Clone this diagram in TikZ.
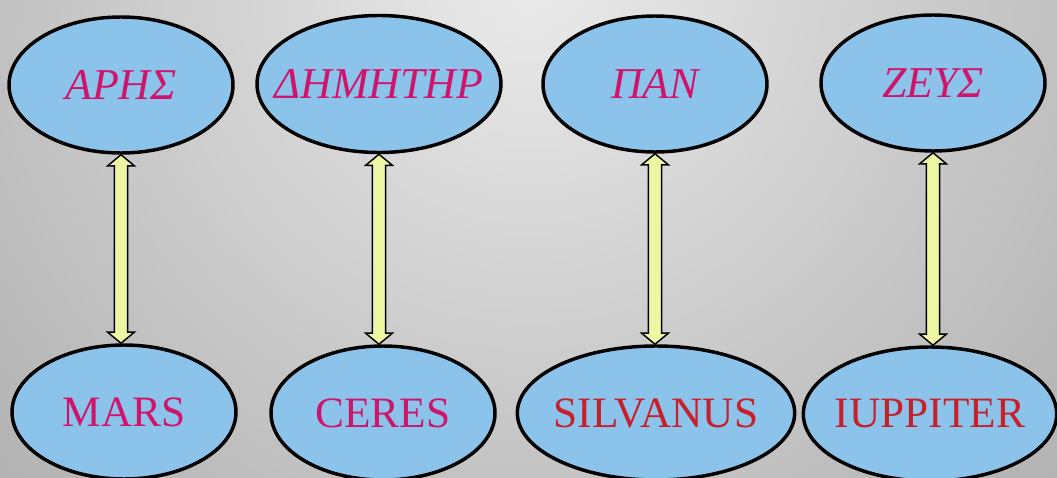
\documentclass[tikz,border=0pt]{standalone}
\usepackage{fontspec}
\setmainfont{Liberation Serif}
\usetikzlibrary{shapes.geometric,calc}
\definecolor{ellfill}{HTML}{8CC3EA}
\definecolor{arrfill}{HTML}{EEF5A3}
\definecolor{magtext}{HTML}{D0146C}
\definecolor{redtext}{HTML}{C8202A}
\definecolor{bgA}{HTML}{EBEBEB}
\definecolor{bgB}{HTML}{D0D0D0}
\definecolor{bgC}{HTML}{B6B6B6}
\definecolor{bgD}{HTML}{9E9E9E}
\pgfdeclareradialshading{bgshade}{\pgfpoint{0bp}{0bp}}{%
  color(0bp)=(bgA); color(7bp)=(bgB);
  color(14bp)=(bgC); color(22bp)=(bgD);
  color(50bp)=(bgD)}
\tikzset{
  godell/.style={ellipse, draw=black, line width=2.6pt, fill=ellfill, inner sep=0pt},
  greektext/.style={font=\fontsize{33}{36}\selectfont\itshape, text=magtext, inner sep=0pt},
  latintext/.style={font=\fontsize{32.5}{36}\selectfont, text=#1, inner sep=0pt},
  arrowbox/.style={draw=black, line width=1.1pt, fill=arrfill, line join=miter},
}
\newcommand{\dblarrow}[2]{%
  \path[arrowbox] let \p1=(#1.south), \p2=(#2.north) in
   (\x1,\y1) -- (\x1+10pt,\y1-8.3pt) -- (\x1+5pt,\y1-8.3pt) -- (\x1+5pt,\y2+8.3pt)
   -- (\x1+10pt,\y2+8.3pt) -- (\x1,\y2) -- (\x1-10pt,\y2+8.3pt) -- (\x1-5pt,\y2+8.3pt)
   -- (\x1-5pt,\y1-8.3pt) -- (\x1-10pt,\y1-8.3pt) -- cycle;}
\begin{document}
\begin{tikzpicture}[x=0.75pt,y=-0.75pt]
\useasboundingbox (0,0) rectangle (1057,478);
\begin{scope}
\clip (0,0) rectangle (1057,478);
\shade[shading=bgshade] (530,-20) circle (900pt);
% top row
\node[godell, minimum width=168pt, minimum height=102pt] (ares) at (121,85) {};
\node[greektext] (aresT) at (ares) {ΑΡΗΣ};
\node[godell, minimum width=183pt, minimum height=102.75pt] (demeter) at (379,84) {};
\node[greektext] (demeterT) at (demeter) {ΔΗΜΗΤΗΡ};
\node[godell, minimum width=168pt, minimum height=102pt] (pan) at (655,84) {};
\node[greektext] (panT) at (pan) {ΠΑΝ};
\node[godell, minimum width=168pt, minimum height=102pt] (zeus) at (933,83) {};
\node[greektext] (zeusT) at (zeus) {ΖΕΥΣ};
% bottom row
\node[godell, minimum width=168pt, minimum height=100.5pt] (mars) at (124,412) {};
\node[latintext=magtext] (marsT) at (mars) {MARS};
\node[godell, minimum width=168pt, minimum height=100.5pt] (ceres) at (383,413) {};
\node[latintext=magtext] (ceresT) at (ceres) {CERES};
\node[godell, minimum width=208pt, minimum height=100.5pt] (silvanus) at (656,413) {};
\node[latintext=redtext] (silvanusT) at (silvanus) {SILVANUS};
\node[godell, minimum width=190pt, minimum height=100.5pt] (iuppiter) at (930,414) {};
\node[latintext=redtext] (iuppiterT) at (iuppiter) {IUPPITER};
% arrows
\dblarrow{ares}{mars}
\dblarrow{demeter}{ceres}
\dblarrow{pan}{silvanus}
\dblarrow{zeus}{iuppiter}
\end{scope}
\end{tikzpicture}
\end{document}
